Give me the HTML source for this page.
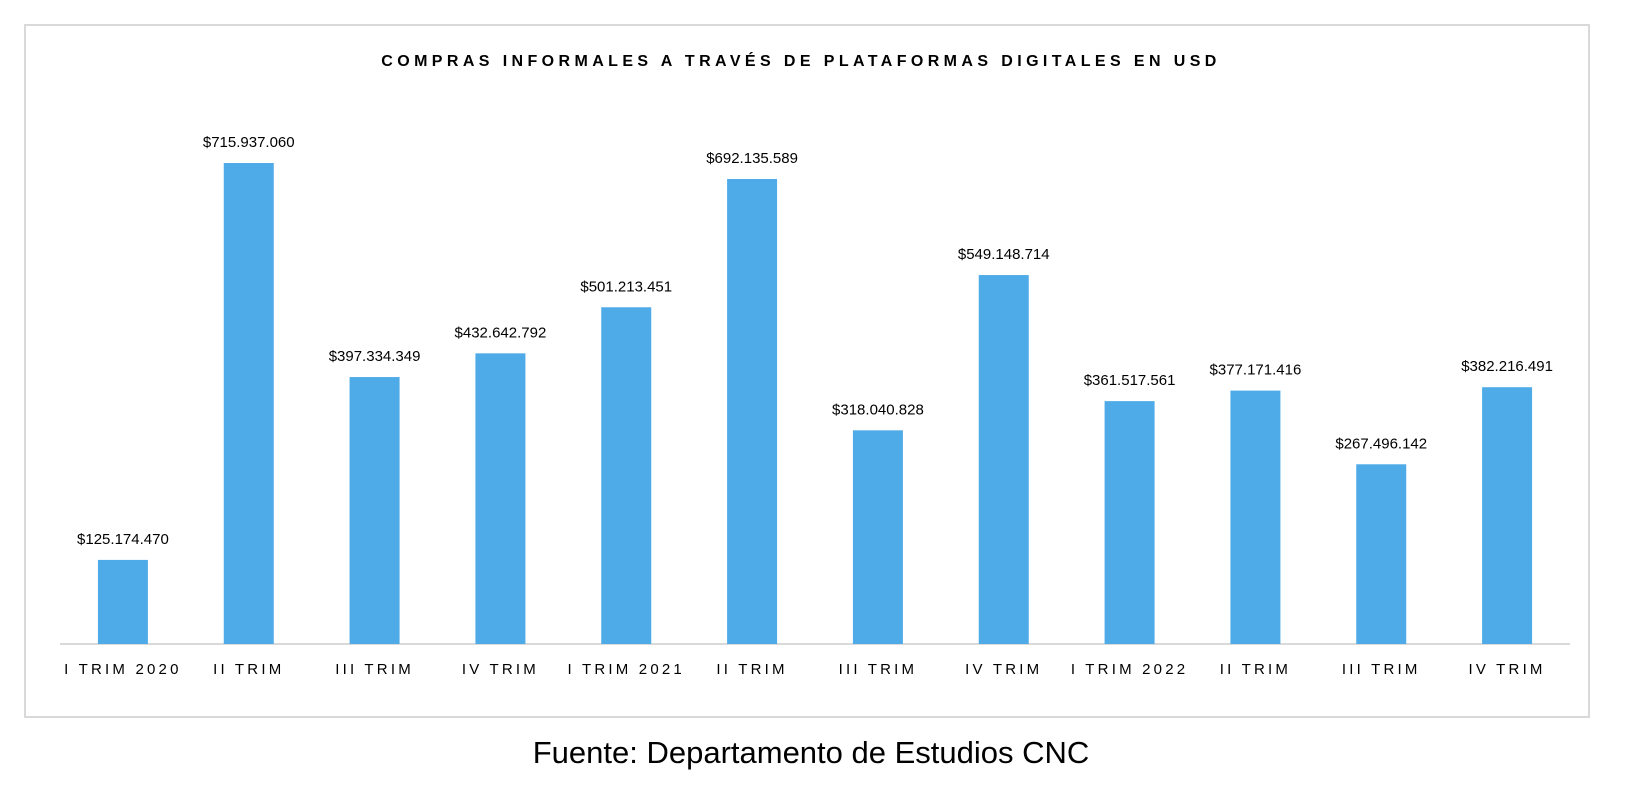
<!DOCTYPE html>
<html><head><meta charset="utf-8"><style>
body{margin:0;background:#fff;width:1648px;height:786px;overflow:hidden;font-family:"Liberation Sans",sans-serif}
</style></head><body>
<svg id="chart" width="1648" height="786" xmlns="http://www.w3.org/2000/svg">
<rect x="25" y="25" width="1564" height="692" fill="#fff" stroke="#d9d9d9" stroke-width="2"/>
<text x="801" y="66" text-anchor="middle" font-size="16" font-weight="bold" letter-spacing="4.4" fill="#000">COMPRAS INFORMALES A TRAVÉS DE PLATAFORMAS DIGITALES EN USD</text>
<line x1="60" y1="644" x2="1570" y2="644" stroke="#d9d9d9" stroke-width="2"/>
<g id="bars"></g>
<text x="811" y="763" text-anchor="middle" font-size="31" fill="#000">Fuente: Departamento de Estudios CNC</text>
</svg>
<script>
const categories=["I TRIM 2020","II TRIM","III TRIM","IV TRIM","I TRIM 2021","II TRIM","III TRIM","IV TRIM","I TRIM 2022","II TRIM","III TRIM","IV TRIM"];
const values=[125174470,715937060,397334349,432642792,501213451,692135589,318040828,549148714,361517561,377171416,267496142,382216491];
const valueLabels=["$125.174.470","$715.937.060","$397.334.349","$432.642.792","$501.213.451","$692.135.589","$318.040.828","$549.148.714","$361.517.561","$377.171.416","$267.496.142","$382.216.491"];
const NS="http://www.w3.org/2000/svg";
const x0=60,x1=1570,base=644,pxPerUnit=481/715937060;
const step=(x1-x0)/categories.length;
const xCenter=i=>x0+step*(i+0.5);
const yPos=v=>base-v*pxPerUnit;
const g=document.getElementById('bars');
categories.forEach((c,i)=>{
  const cx=xCenter(i),y=yPos(values[i]);
  const r=document.createElementNS(NS,'rect');
  
  
  r.setAttribute('x',cx-25);r.setAttribute('y',y);r.setAttribute('width',50);r.setAttribute('height',base-y);r.setAttribute('fill','#4fabe8');
  g.appendChild(r);
  const t=document.createElementNS(NS,'text');
  
  
  t.setAttribute('x',cx);t.setAttribute('y',y-16);t.setAttribute('text-anchor','middle');t.setAttribute('font-size','15');t.setAttribute('fill','#000');
  t.textContent=valueLabels[i];g.appendChild(t);
  const l=document.createElementNS(NS,'text');
  
  
  l.setAttribute('x',cx);l.setAttribute('y',674);l.setAttribute('text-anchor','middle');l.setAttribute('font-size','15');l.setAttribute('letter-spacing','3.2');l.setAttribute('fill','#000');
  l.textContent=c;g.appendChild(l);
});
</script>
</body></html>
